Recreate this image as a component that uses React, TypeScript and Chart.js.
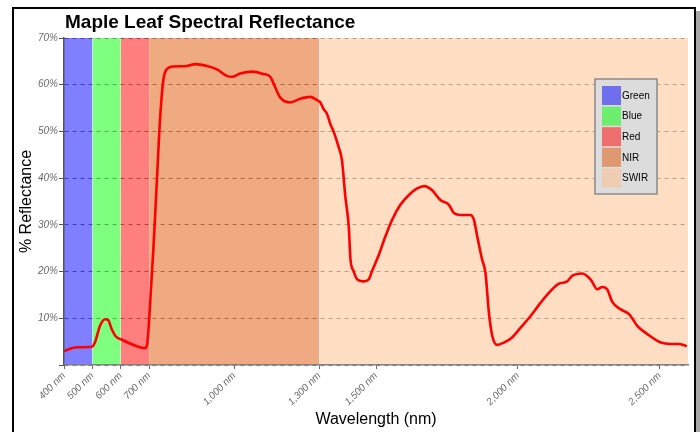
import React, { useEffect, useRef } from 'react';
import { Chart, registerables } from 'chart.js';

Chart.register(...registerables);

const FONT = '"Liberation Sans", Arial, Helvetica, sans-serif';

const wavelengthNm = [
  400, 445, 498, 509, 527, 545, 556, 568, 583, 604, 633, 668, 686, 694, 701, 715, 727, 739, 750, 762,
  786, 833, 862, 904, 939, 974, 992, 1021, 1063, 1103, 1127, 1145, 1162, 1198, 1233, 1268, 1292, 1304,
  1315, 1327, 1339, 1351, 1368, 1380, 1392, 1404, 1410, 1421, 1433, 1457, 1474, 1486, 1510, 1533, 1557,
  1586, 1616, 1645, 1671, 1698, 1727, 1757, 1774, 1804, 1833, 1845, 1857, 1874, 1886, 1898, 1910, 1927,
  1951, 1980, 2010, 2045, 2080, 2115, 2145, 2174, 2192, 2227, 2257, 2280, 2298, 2315, 2333, 2363, 2392,
  2421, 2457, 2504, 2539, 2568, 2592,
];

const reflectancePct = [
  3.0, 3.8, 3.9, 4.8, 8.4, 9.8, 9.6, 7.7, 6.1, 5.4, 4.6, 3.8, 3.6, 4.8, 10.5, 24.7, 38.9, 53.0, 60.9, 63.3,
  63.9, 64.0, 64.4, 64.0, 63.3, 61.9, 61.7, 62.4, 62.8, 62.3, 61.7, 59.4, 57.3, 56.2, 57.0, 57.4, 56.7, 56.2,
  54.8, 53.8, 51.6, 49.9, 46.7, 43.8, 36.0, 29.6, 22.6, 20.1, 18.4, 17.9, 18.3, 20.1, 23.6, 27.5, 31.1,
  34.3, 36.4, 37.8, 38.3, 37.4, 35.3, 34.3, 32.6, 32.1, 32.1, 31.1, 27.5, 22.6, 19.7, 11.2, 6.2, 4.3,
  4.8, 5.9, 8.0, 10.5, 13.3, 15.8, 17.4, 17.9, 19.1, 19.6, 18.3, 16.2, 16.7, 16.2, 13.5, 11.9, 10.9,
  8.4, 6.6, 4.8, 4.5, 4.5, 4.1,
];

const bandNames = ['Green', 'Blue', 'Red', 'NIR', 'SWIR'];
const bandStartNm = [400, 500, 600, 700, 1300];
const bandEndNm = [500, 600, 700, 1300, 2600];
const bandColors = [
  'rgba(0,0,255,0.5)',
  'rgba(0,255,0,0.5)',
  'rgba(255,0,0,0.5)',
  'rgba(225,85,5,0.5)',
  'rgba(255,189,135,0.5)',
];

const xTickValues = [400, 500, 600, 700, 1000, 1300, 1500, 2000, 2500];
const yTickValues = [0, 10, 20, 30, 40, 50, 60, 70];
const yMax = 70;

export default function App() {
  const ref = useRef<HTMLCanvasElement>(null);

  useEffect(() => {
    if (!ref.current) return;

    const decor = {
      id: 'decor',
      afterDraw(chart: any) {
        const { ctx, chartArea } = chart;
        ctx.save();
        // frame
        ctx.strokeStyle = '#000';
        ctx.lineWidth = 2;
        ctx.strokeRect(13, 8, 682, 460);
        ctx.fillStyle = '#a8a8a8';
        ctx.fillRect(696, 11, 4, 421);
        // title
        ctx.fillStyle = '#000';
        ctx.font = `bold 19px ${FONT}`;
        ctx.textAlign = 'left';
        ctx.textBaseline = 'alphabetic';
        ctx.fillText('Maple Leaf Spectral Reflectance', 65, 28);
        // legend
        const bx = chartArea.right - 93;
        const by = chartArea.top + 41;
        const bw = 62;
        const bh = 115;
        ctx.fillStyle = '#dcdcdc';
        ctx.fillRect(bx, by, bw, bh);
        ctx.strokeStyle = '#8a8a8a';
        ctx.lineWidth = 1.5;
        ctx.strokeRect(bx, by, bw, bh);
        ctx.font = `10px ${FONT}`;
        ctx.textBaseline = 'middle';
        bandNames.forEach((name, i) => {
          const sy = by + 7 + i * 20.6;
          ctx.fillStyle = bandColors[i];
          ctx.fillRect(bx + 7, sy, 19, 19);
          ctx.fillStyle = '#000';
          ctx.fillText(name, bx + 27, sy + 10);
        });
        ctx.restore();
      },
    };

    const bandDatasets = bandNames.map((name, i) => ({
      type: 'line' as const,
      label: name,
      data: [
        { x: bandStartNm[i], y: yMax },
        { x: bandEndNm[i], y: yMax },
      ],
      backgroundColor: bandColors[i],
      borderWidth: 0,
      borderColor: 'rgba(0,0,0,0)',
      pointRadius: 0,
      fill: 'origin',
      order: 2,
    }));

    const chart = new Chart(ref.current, {
      type: 'line',
      data: {
        datasets: [
          {
            label: 'Reflectance',
            data: wavelengthNm.map((x, i) => ({ x, y: reflectancePct[i] })),
            borderColor: '#ff0000',
            borderWidth: 2.6,
            pointRadius: 0,
            fill: false,
            cubicInterpolationMode: 'monotone',
            borderJoinStyle: 'round',
            borderCapStyle: 'round',
            order: 0,
          } as any,
          ...bandDatasets,
        ],
      },
      options: {
        responsive: false,
        animation: false,
        devicePixelRatio: 1,
        layout: { padding: { left: 0, right: 12, top: 38, bottom: 0 } },
        plugins: {
          legend: { display: false },
          tooltip: { enabled: false },
          title: { display: false },
        },
        scales: {
          x: {
            type: 'linear',
            min: 400,
            max: 2600,
            afterBuildTicks: (s: any) => {
              s.ticks = xTickValues.map((v) => ({ value: v }));
            },
            afterFit: (s: any) => {
              s.height = 67;
            },
            ticks: {
              autoSkip: false,
              maxRotation: 45,
              minRotation: 45,
              padding: 1,
              color: '#6a6a6a',
              font: { family: FONT, size: 10, style: 'italic' },
              callback: (v: any) => Number(v).toLocaleString('en-US') + ' nm',
            },
            grid: {
              drawOnChartArea: false,
              drawTicks: true,
              tickLength: 4,
              color: '#6a6a6a',
              tickColor: '#6a6a6a',
            },
            border: { display: true, color: '#808080', width: 1.5, z: 1 },
            title: {
              display: true,
              text: 'Wavelength (nm)',
              color: '#000',
              font: { family: FONT, size: 16 },
              padding: { top: 0, bottom: 3 },
            },
          },
          y: {
            type: 'linear',
            min: 0,
            max: yMax,
            afterBuildTicks: (s: any) => {
              s.ticks = yTickValues.map((v) => ({ value: v }));
            },
            afterFit: (s: any) => {
              s.width = 64;
            },
            ticks: {
              padding: 1,
              color: '#6a6a6a',
              font: { family: FONT, size: 10, style: 'italic' },
              callback: (v: any) => (Number(v) === 0 ? '' : v + '%'),
            },
            grid: {
              color: '#7a7a7a',
              lineWidth: 1,
              tickLength: 5,
              tickColor: '#555',
              tickBorderDash: [],
            },
            border: { display: true, color: '#555', width: 1.5, dash: [4, 4], z: 1 },
            title: {
              display: true,
              text: '% Reflectance',
              color: '#000',
              font: { family: FONT, size: 16 },
              padding: { top: 17, bottom: 0 },
            },
          },
        },
      },
      plugins: [decor],
    } as any);

    return () => chart.destroy();
  }, []);

  return (
    <div style={{ position: 'absolute', left: 0, top: 0, width: 700, height: 432, background: '#fff' }}>
      <canvas ref={ref} width={700} height={432} style={{ display: 'block' }} />
    </div>
  );
}
